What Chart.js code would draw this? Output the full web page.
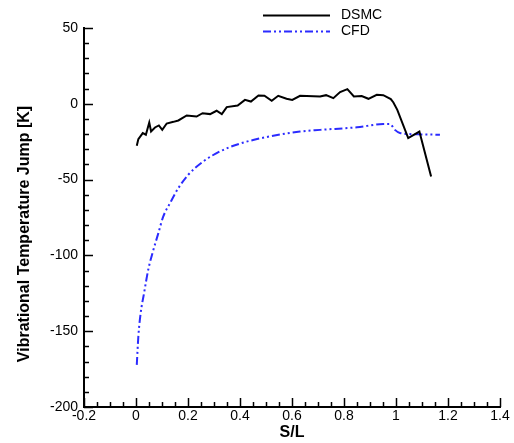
<!DOCTYPE html>
<html>
<head>
<meta charset="utf-8">
<script src="https://cdn.jsdelivr.net/npm/chart.js@4.4.1/dist/chart.umd.min.js"></script>
<style>
    body { margin: 0; background: #fff; }
    #wrap { width: 514px; height: 443px; }
</style>
</head>
<body>
<div id="wrap"><canvas id="chart" width="514" height="443"></canvas></div>
<script>
// DSMC curve (S/L, jump in K)
const dsmcS = [0.003, 0.009, 0.026, 0.038, 0.051, 0.058, 0.073, 0.088, 0.101, 0.118, 0.144, 0.163,
    0.195, 0.233, 0.256, 0.285, 0.310, 0.330, 0.349, 0.391, 0.419, 0.442, 0.471, 0.494, 0.522,
    0.547, 0.579, 0.601, 0.631, 0.708, 0.731, 0.759, 0.785, 0.813, 0.838, 0.868, 0.894, 0.926,
    0.951, 0.980, 0.990, 1.005, 1.047, 1.090, 1.135];
const dsmcT = [-27.7, -23.3, -19.3, -20.4, -12.3, -18.2, -15.6, -14.3, -17.2, -13.0, -11.9, -11.0,
    -7.7, -8.4, -6.2, -6.8, -4.6, -6.8, -2.2, -1.1, 2.6, 1.5, 5.5, 5.3, 2.0,
    5.3, 3.3, 2.6, 5.3, 4.8, 5.7, 3.7, 7.7, 9.7, 4.8, 5.1, 3.3, 5.9,
    5.7, 3.1, 0.9, -4.0, -22.6, -18.3, -48.0];

// CFD curve
const cfdS = [0.003, 0.009, 0.018, 0.031, 0.047, 0.067, 0.086, 0.105, 0.131, 0.163, 0.201, 0.259,
    0.323, 0.397, 0.500, 0.631, 0.708, 0.850, 0.951, 0.977, 0.996, 1.015, 1.100, 1.169];
const cfdT = [-172.2, -153.5, -138.0, -124.9, -109.5, -96.3, -85.3, -74.3, -65.5, -55.6, -46.8, -38.0,
    -31.4, -26.4, -22.0, -18.3, -17.2, -15.5, -13.4, -13.4, -17.2, -19.3, -20.2, -20.4];

const seriesNames = ['DSMC', 'CFD'];
const xTitle = 'S/L';
const yTitle = 'Vibrational Temperature Jump [K]';

const FONT = '"Liberation Sans", Arial, sans-serif';
const CFD_BLUE = '#2b2bff';

const toPts = (xs, ys) => xs.map((x, i) => ({ x: x, y: ys[i] }));

// inward tick marks, like the original plot
const innerTicks = {
    id: 'innerTicks',
    afterDraw(chart) {
        const ctx = chart.ctx;
        const xs = chart.scales.x;
        const ys = chart.scales.y;
        const area = chart.chartArea;
        ctx.save();
        ctx.strokeStyle = '#000';
        ctx.lineWidth = 1.5;
        for (let i = 0; i <= 32; i++) {
            const v = -0.2 + i * 0.05;
            const px = Math.round(xs.getPixelForValue(v)) + 0.5;
            const len = i % 4 === 0 ? 9 : 5;
            ctx.beginPath();
            ctx.moveTo(px, area.bottom);
            ctx.lineTo(px, area.bottom - len);
            ctx.stroke();
        }
        for (let i = 0; i <= 25; i++) {
            const v = -200 + i * 10;
            const py = Math.round(ys.getPixelForValue(v)) + 0.5;
            const len = i % 5 === 0 ? 9 : 5;
            ctx.beginPath();
            ctx.moveTo(area.left, py);
            ctx.lineTo(area.left + len, py);
            ctx.stroke();
        }

        // y title
        ctx.fillStyle = '#000';
        ctx.font = 'bold 16px ' + FONT;
        ctx.textAlign = 'center';
        ctx.textBaseline = 'middle';
        ctx.translate(25, 234);
        ctx.rotate(-Math.PI / 2);
        ctx.fillText(yTitle, 0, 0);
        ctx.restore();

        // legend
        ctx.save();
        chart.data.datasets.forEach((ds, i) => {
            const y = 15.5 + i * 16;
            ctx.strokeStyle = ds.borderColor;
            ctx.lineWidth = 2;
            ctx.setLineDash(ds.borderDash || []);
            ctx.beginPath();
            ctx.moveTo(263, y);
            ctx.lineTo(330, y);
            ctx.stroke();
            ctx.setLineDash([]);
            ctx.fillStyle = '#000';
            ctx.font = '14px ' + FONT;
            ctx.textAlign = 'left';
            ctx.textBaseline = 'middle';
            ctx.fillText(ds.label, 341, y);
        });
        ctx.restore();
    }
};

const ctx = document.getElementById('chart').getContext('2d');

let chart = new Chart(ctx, {
    type: 'scatter',
    data: {
        datasets: [{
            label: seriesNames[0],
            data: toPts(dsmcS, dsmcT),
            showLine: true,
            borderColor: '#000',
            borderWidth: 2,
            pointRadius: 0,
            tension: 0
        }, {
            label: seriesNames[1],
            data: toPts(cfdS, cfdT),
            showLine: true,
            borderColor: CFD_BLUE,
            borderWidth: 2,
            borderDash: [8, 3, 2, 3, 2, 3],
            pointRadius: 0,
            cubicInterpolationMode: 'monotone'
        }]
    },
    options: {
        responsive: false,
        animation: false,
        layout: { padding: { top: 28, right: 14, left: 0, bottom: 0 } },
        plugins: {
            legend: { display: false },
            tooltip: { enabled: false }
        },
        scales: {
            x: {
                type: 'linear',
                min: -0.2,
                max: 1.4,
                afterFit: s => { s.height = 36; },
                border: { display: true, color: '#000', width: 2 },
                grid: { display: false, drawTicks: false },
                ticks: {
                    stepSize: 0.2,
                    padding: 1,
                    color: '#000',
                    font: { family: FONT, size: 14 },
                    maxRotation: 0,
                    callback: v => String(Math.round(v * 10) / 10)
                },
                title: {
                    display: true,
                    text: xTitle,
                    color: '#000',
                    font: { family: FONT, size: 16, weight: 'bold' },
                    padding: { top: 0, bottom: 1 }
                }
            },
            y: {
                min: -200,
                max: 50,
                afterFit: s => { s.width = 84; },
                border: { display: true, color: '#000', width: 2 },
                grid: { display: false, drawTicks: false },
                ticks: {
                    stepSize: 50,
                    padding: 6,
                    color: '#000',
                    font: { family: FONT, size: 14 },
                    callback: v => String(v)
                }
            }
        }
    },
    plugins: [innerTicks]
});
</script>
</body>
</html>
